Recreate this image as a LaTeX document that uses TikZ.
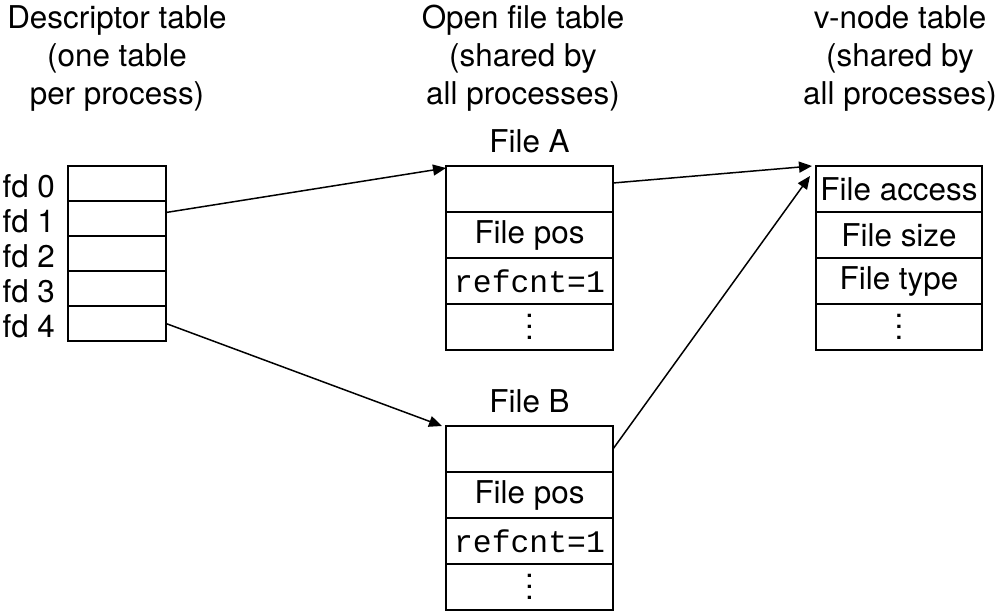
\documentclass[tikz,border=0pt]{standalone}
\usepackage{fontspec}
\setmainfont{TeX Gyre Heros}
\setmonofont{Liberation Mono}
\usetikzlibrary{arrows.meta,positioning}

\newcommand{\cellvdots}{\vbox{\baselineskip=5.5pt\lineskiplimit=-10pt\hbox{.}\hbox{.}\hbox{.}}}

\begin{document}
\begin{tikzpicture}[
  x=0.5pt, y=-0.5pt,
  font=\fontsize{15.7}{19}\selectfont,
  title/.style={align=center, inner sep=0pt},
  fdcell/.style={draw, line width=0.55pt, minimum width=49pt, minimum height=17.5pt,
    inner sep=0pt, outer sep=0pt},
  ofcell/.style={draw, line width=0.55pt, minimum width=83.5pt, minimum height=23pt,
    inner sep=0pt, outer sep=0pt},
  fdlabel/.style={label={[label distance=3pt, yshift=-1.5pt]left:#1}},
  arr/.style={-{Triangle[length=6.5pt,width=5.5pt]}, line width=0.75pt}
]
  \useasboundingbox (0,0) rectangle (1002,614);

  % Titles
  \node[title] (tdesc) at (117,58) {Descriptor table\\(one table\\per process)};
  \node[title] (topen) at (523,58) {Open file table\\(shared by\\all processes)};
  \node[title] (tvnode) at (900,58) {v-node table\\(shared by\\all processes)};

  % Descriptor table
  \node[fdcell, fdlabel=fd 0, anchor=north west] (fd0) at (68,166) {};
  \foreach \i [remember=\i as \prev (initially 0)] in {1,...,4}
    \node[fdcell, fdlabel=fd \i, below=0pt of fd\prev] (fd\i) {};

  % Open file table, file A
  \node[ofcell, anchor=north west] (fa0) at (446,166) {};
  \node[ofcell, below=0pt of fa0] (fa1) {File pos};
  \node[ofcell, below=0pt of fa1] (fa2) {\texttt{refcnt=1}};
  \node[ofcell, below=0pt of fa2] (fa3) {\cellvdots};
  \node[above=3pt of fa0] (labA) {File A};

  % Open file table, file B
  \node[ofcell, anchor=north west] (fb0) at (446,426) {};
  \node[ofcell, below=0pt of fb0] (fb1) {File pos};
  \node[ofcell, below=0pt of fb1] (fb2) {\texttt{refcnt=1}};
  \node[ofcell, below=0pt of fb2] (fb3) {\cellvdots};
  \node[above=3pt of fb0] (labB) {File B};

  % v-node table
  \node[ofcell, minimum width=83pt, anchor=north west] (v0) at (816,166) {File access};
  \node[ofcell, minimum width=83pt, below=0pt of v0] (v1) {File size};
  \node[ofcell, minimum width=83pt, below=0pt of v1] (v2) {File type};
  \node[ofcell, minimum width=83pt, below=0pt of v2] (v3) {\cellvdots};

  % Arrows
  \draw[arr] ([yshift=3pt]fd1.east) -- ([yshift=-1pt]fa0.north west);
  \draw[arr] (fd4.east) -- ([xshift=-2pt]fb0.north west);
  \draw[arr] ([yshift=3pt]fa0.east) -- ([xshift=-2pt]v0.north west);
  \draw[arr] (fb0.east) -- ([xshift=-3pt,yshift=-5pt]v0.north west);
\end{tikzpicture}
\end{document}
